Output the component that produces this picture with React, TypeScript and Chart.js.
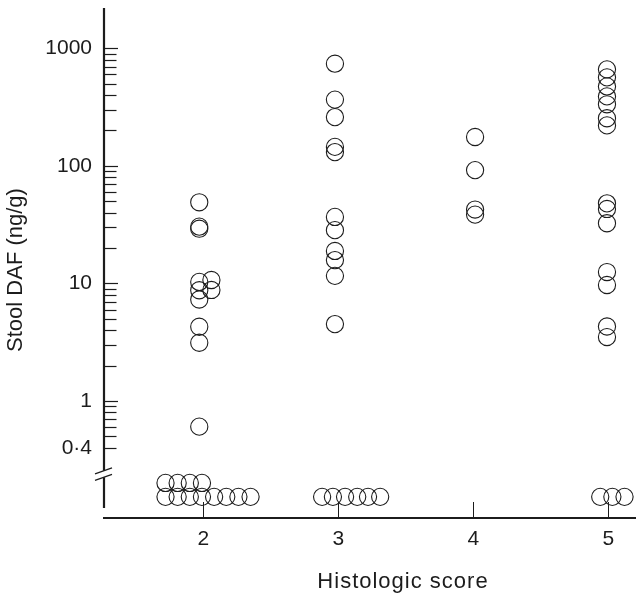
import React, { useEffect, useRef } from 'react';
import { Chart, registerables } from 'chart.js';

Chart.register(...registerables);

// ---------- data ----------
const categories = [2, 3, 4, 5];
const categoryLabels = ['2', '3', '4', '5'];
const xTitle = 'Histologic score';
const yTitle = 'Stool DAF (ng/g)';

// Stool DAF (ng/g), detected samples, with small horizontal jitter per point
const score2Values = [49, 30.4, 29.2, 10.3, 8.75, 7.3, 4.28, 3.13, 0.605, 10.7, 8.8];
const score2Jitter = [-0.03, -0.03, -0.03, -0.03, -0.03, -0.03, -0.03, -0.03, -0.03, 0.06, 0.06];

const score3Values = [740, 366, 260, 145, 131, 36.8, 28.4, 18.9, 15.8, 11.6, 4.51];
const score3Jitter = [-0.025, -0.025, -0.025, -0.025, -0.025, -0.025, -0.025, -0.025, -0.025, -0.025, -0.025];

const score4Values = [176, 92, 42.5, 38.5];
const score4Jitter = [0.013, 0.013, 0.013, 0.013];

const score5Values = [662, 566, 474, 390, 334, 254, 221, 48, 43, 32.5, 12.5, 9.7, 4.3, 3.5];
const score5Jitter = [-0.01, -0.01, -0.01, -0.01, -0.01, -0.01, -0.01, -0.01, -0.01, -0.01, -0.01, -0.01, -0.01, -0.01];

// Undetectable samples, drawn below the axis break in two rows
const undetectedRowLow = 0.153;
const undetectedRowHigh = 0.201;
const undetected2LowX = [1.72, 1.81, 1.9, 1.99, 2.08, 2.17, 2.26, 2.35];
const undetected2HighX = [1.72, 1.81, 1.9, 1.99];
const undetected3LowX = [2.88, 2.96, 3.05, 3.14, 3.22, 3.31];
const undetected5LowX = [4.94, 5.03, 5.12];

// ---------- axes ----------
const yMin = 0.1011;
const yMax = 2202;
const xMin = 1.2644;
const xMax = 5.205;
const breakValue = 0.24;

const yTickValues = [
  0.4, 0.5, 0.6, 0.7, 0.8, 0.9,
  1, 2, 3, 4, 5, 6, 7, 8, 9,
  10, 20, 30, 40, 50, 60, 70, 80, 90,
  100, 200, 300, 400, 500, 600, 700, 800, 900,
  1000,
];
const yMajorTicks = [1, 10, 100, 1000];
const yLabelValues = [0.4, 1, 10, 100, 1000];
const yLabelTexts = ['0·4', '1', '10', '100', '1000'];

const INK = '#1c1c1c';
const FONT = "'Liberation Sans', Arial, Helvetica, sans-serif";

function buildPoints(cat: number, values: number[], jitter: number[]) {
  return values.map((v, i) => ({ x: cat + jitter[i], y: v }));
}
function buildRow(xs: number[], level: number) {
  return xs.map((x) => ({ x, y: level }));
}

const axisPlugin = {
  id: 'customAxes',
  beforeDatasetsDraw(chart: any) {
    const { ctx, chartArea, scales } = chart;
    const x = scales.x;
    const y = scales.y;
    const ax = chartArea.left;
    ctx.save();
    ctx.strokeStyle = INK;
    ctx.lineCap = 'butt';

    // x axis line
    ctx.lineWidth = 2.2;
    ctx.beginPath();
    ctx.moveTo(ax - 1, chartArea.bottom);
    ctx.lineTo(chartArea.right, chartArea.bottom);
    ctx.stroke();

    // y axis line with break
    const by = y.getPixelForValue(breakValue);
    ctx.beginPath();
    ctx.moveTo(ax, chartArea.top);
    ctx.lineTo(ax, by - 3);
    ctx.moveTo(ax, by + 3.5);
    ctx.lineTo(ax, chartArea.bottom - 10);
    ctx.stroke();

    // break marks
    ctx.lineWidth = 1.1;
    for (const d of [-3, 3.5]) {
      ctx.beginPath();
      ctx.moveTo(ax - 9, by + d + 3);
      ctx.lineTo(ax + 8, by + d - 3);
      ctx.stroke();
    }

    // y tick marks (inward)
    ctx.lineWidth = 1.2;
    for (const t of y.ticks) {
      const py = Math.round(y.getPixelForValue(t.value)) + 0.5;
      const len = yMajorTicks.includes(t.value) ? 14 : 12.5;
      ctx.beginPath();
      ctx.moveTo(ax, py);
      ctx.lineTo(ax + len, py);
      ctx.stroke();
    }

    // x tick marks (inward)
    ctx.lineWidth = 1;
    for (const t of x.ticks) {
      const px = Math.round(x.getPixelForValue(t.value)) + 0.5;
      ctx.beginPath();
      ctx.moveTo(px, chartArea.bottom);
      ctx.lineTo(px, chartArea.bottom - 16);
      ctx.stroke();
    }
    ctx.restore();
  },
  afterDraw(chart: any) {
    const { ctx, chartArea } = chart;
    ctx.save();
    ctx.fillStyle = INK;
    ctx.textAlign = 'center';
    ctx.textBaseline = 'middle';
    ctx.font = `22px ${FONT}`;

    // x axis title (slightly letter-spaced, as in the original typesetting)
    if ('letterSpacing' in ctx) (ctx as any).letterSpacing = '1px';
    ctx.fillText(xTitle, (chartArea.left + chartArea.right) / 2 + 33, chartArea.bottom + 64);
    if ('letterSpacing' in ctx) (ctx as any).letterSpacing = '0px';

    // y axis title
    ctx.translate(16, (chartArea.top + chartArea.bottom) / 2 + 7);
    ctx.rotate(-Math.PI / 2);
    ctx.fillText(yTitle, 0, 0);
    ctx.restore();
  },
};

export default function App() {
  const canvasRef = useRef<HTMLCanvasElement | null>(null);

  useEffect(() => {
    if (!canvasRef.current) return;
    const detected = [
      ...buildPoints(categories[0], score2Values, score2Jitter),
      ...buildPoints(categories[1], score3Values, score3Jitter),
      ...buildPoints(categories[2], score4Values, score4Jitter),
      ...buildPoints(categories[3], score5Values, score5Jitter),
    ];
    const undetected = [
      ...buildRow(undetected2HighX, undetectedRowHigh),
      ...buildRow(undetected2LowX, undetectedRowLow),
      ...buildRow(undetected3LowX, undetectedRowLow),
      ...buildRow(undetected5LowX, undetectedRowLow),
    ];
    const pointStyle = {
      pointStyle: 'circle',
      pointRadius: 8.6,
      pointHoverRadius: 8.6,
      pointBorderWidth: 1.1,
      borderColor: INK,
      backgroundColor: 'rgba(0,0,0,0)',
      pointBackgroundColor: 'rgba(0,0,0,0)',
      pointBorderColor: INK,
      showLine: false,
    };
    const chart = new Chart(canvasRef.current, {
      type: 'scatter',
      data: {
        datasets: [
          { label: 'Detected', data: detected, ...pointStyle },
          { label: 'Undetectable', data: undetected, ...pointStyle },
        ],
      },
      options: {
        responsive: false,
        animation: false,
        events: [],
        layout: { padding: { top: 8, right: 6, left: 0, bottom: 0 }, autoPadding: false },
        plugins: {
          legend: { display: false },
          tooltip: { enabled: false },
          title: { display: false },
        },
        scales: {
          x: {
            type: 'linear',
            position: 'bottom',
            min: xMin,
            max: xMax,
            grid: { display: false, drawTicks: false, tickLength: 0 },
            border: { display: false },
            afterBuildTicks: (scale: any) => {
              scale.ticks = categories.map((c) => ({ value: c }));
            },
            afterFit: (scale: any) => {
              scale.height = 81;
              scale.paddingLeft = 0;
              scale.paddingRight = 0;
            },
            ticks: {
              autoSkip: false,
              maxRotation: 0,
              padding: 9,
              color: INK,
              font: { family: FONT, size: 21 },
              callback: (value: any) => {
                const i = categories.indexOf(Number(value));
                return i >= 0 ? categoryLabels[i] : '';
              },
            },
            title: { display: false },
          },
          y: {
            type: 'logarithmic',
            position: 'left',
            min: yMin,
            max: yMax,
            grid: { display: false, drawTicks: false, tickLength: 0 },
            border: { display: false },
            afterBuildTicks: (scale: any) => {
              scale.ticks = yTickValues.map((v) => ({ value: v, major: false }));
            },
            afterFit: (scale: any) => {
              scale.width = 104;
              scale.paddingTop = 0;
              scale.paddingBottom = 0;
            },
            ticks: {
              autoSkip: false,
              padding: 12,
              color: INK,
              font: { family: FONT, size: 21 },
              callback: (value: any) => {
                const v = Number(value);
                const i = yLabelValues.findIndex((l) => Math.abs(l - v) / l < 1e-6);
                return i >= 0 ? yLabelTexts[i] : '';
              },
            },
            title: { display: false },
          },
        },
      },
      plugins: [axisPlugin],
    });
    return () => chart.destroy();
  }, []);

  return (
    <div style={{ position: 'absolute', left: 0, top: 0, width: 642, height: 599, background: '#fff' }}>
      <canvas ref={canvasRef} width={642} height={599} style={{ display: 'block' }} />
    </div>
  );
}
